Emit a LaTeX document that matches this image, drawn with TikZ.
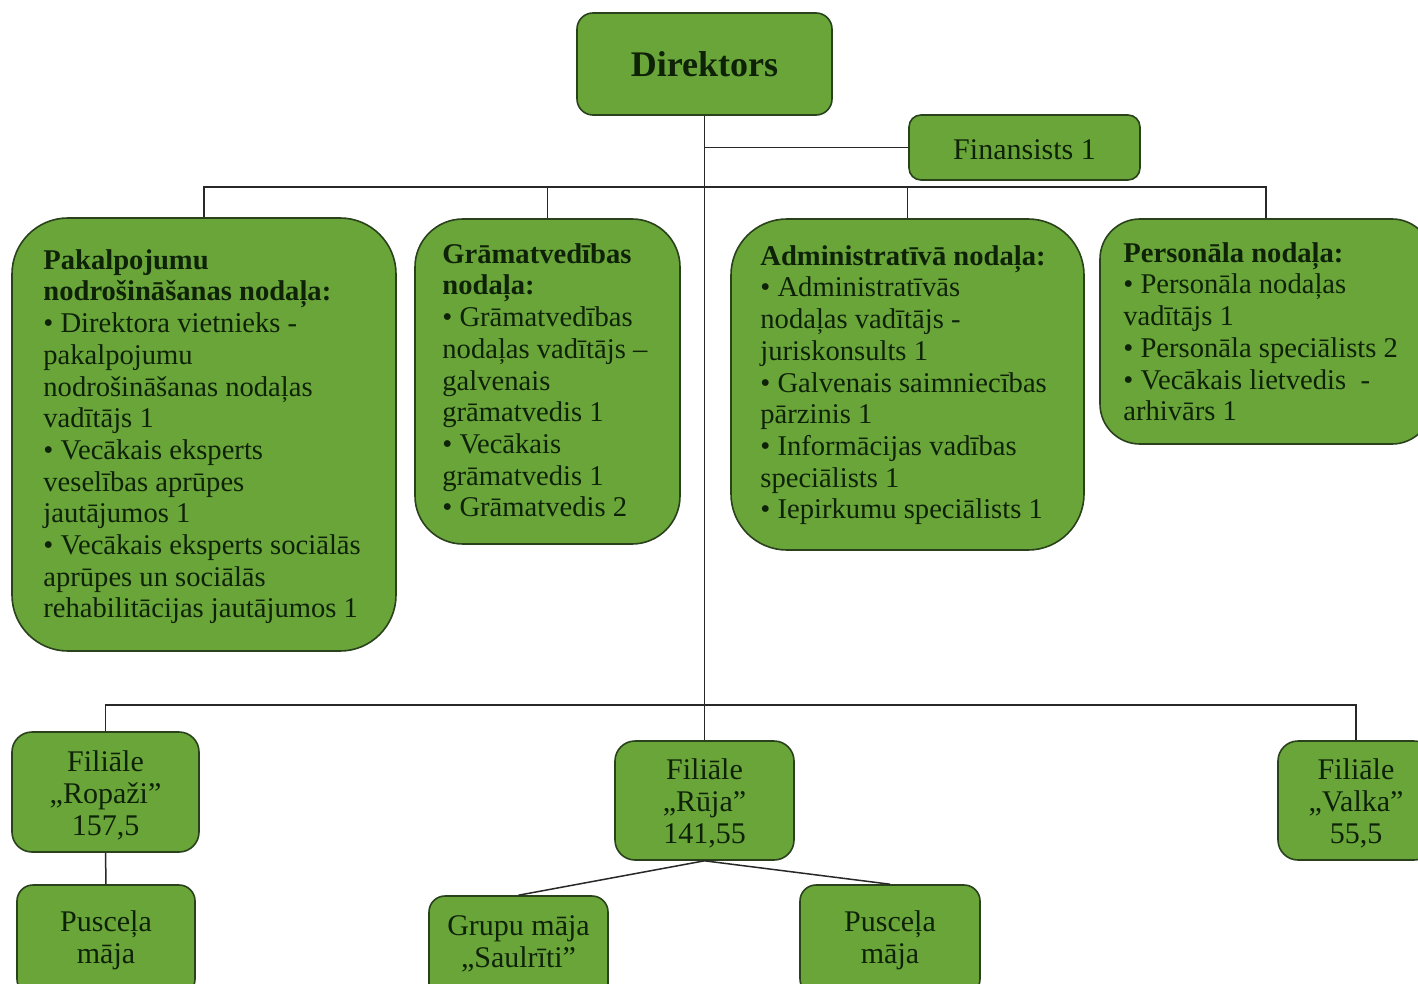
\documentclass[tikz,border=0pt]{standalone}
\usepackage{fontspec}
\setmainfont{Liberation Serif}
\definecolor{boxgreen}{RGB}{106,165,58}
\definecolor{boxedge}{RGB}{42,66,28}
\definecolor{txt}{RGB}{14,34,8}
\definecolor{wire}{RGB}{40,40,40}
\newcommand{\shiftline}[2]{\raisebox{#1}[\height][\depth]{#2}}
\begin{document}
\begin{tikzpicture}[x=0.5pt,y=-0.5pt,
  box/.style={draw=boxedge, line width=0.8pt, fill=boxgreen, rounded corners=#1, inner sep=0pt, text=txt},
  box/.default=10pt,
  small/.style={font=\fontsize{15}{16}\selectfont, align=center},
  dept/.style={anchor=north west, inner sep=0pt, align=left, text=txt, font=\fontsize{14.3}{15.85}\selectfont},
  wire/.style={draw=wire, line width=0.75pt}]
\useasboundingbox[fill=white] (0,0) rectangle (1418,984);

% boxes
\node[box=8pt, minimum width=127.5pt, minimum height=51pt, font=\fontsize{18}{20}\selectfont\bfseries] (dir) at (704.5,64) {Direktors};
\node[box=6pt, minimum width=115.5pt, minimum height=32.5pt, small] (fin) at (1024.5,147.5) {\shiftline{-1pt}{Finansists 1}};
\node[box=28pt, minimum width=192pt, minimum height=216.5pt] (pak) at (204,434.5) {};
\node[box=24pt, minimum width=132.5pt, minimum height=162.5pt] (gra) at (547.5,381.5) {};
\node[box=28pt, minimum width=176.5pt, minimum height=165.5pt] (adm) at (907.5,384.5) {};
\node[box=20pt, minimum width=166pt, minimum height=112.5pt] (per) at (1266,331.5) {};

\node[box, minimum width=93.5pt, minimum height=60pt, small] (rop) at (105.5,792) {\shiftline{-1.5pt}{Filiāle}\\\shiftline{-1.5pt}{„Ropaži”}\\\shiftline{-1.5pt}{157,5}};
\node[box, minimum width=89.5pt, minimum height=59.5pt, small] (ruj) at (704.5,800.5) {\shiftline{-1.5pt}{Filiāle}\\\shiftline{-1.5pt}{„Rūja”}\\\shiftline{-1.5pt}{141,55}};
\node[box, minimum width=78pt, minimum height=59.5pt, small] (val) at (1356,800.5) {\shiftline{-1.5pt}{Filiāle}\\\shiftline{-1.5pt}{„Valka”}\\\shiftline{-1.5pt}{55,5}};
\node[box=8pt, minimum width=89pt, minimum height=55pt, small] (pl) at (106,940) {Pusceļa\\māja};
\node[box=8pt, minimum width=89.5pt, minimum height=52pt, small] (gru) at (518.5,948) {\shiftline{2.2pt}{Grupu māja}\\\shiftline{2.2pt}{„Saulrīti”}};
\node[box=8pt, minimum width=90pt, minimum height=55pt, small] (pr) at (890,940) {Pusceļa\\māja};

% department texts
\node[dept] (pakt) at (43,249) {\textbf{Pakalpojumu}\\\textbf{nodrošināšanas nodaļa:}\\• Direktora vietnieks -\\pakalpojumu\\nodrošināšanas nodaļas\\vadītājs 1\\• Vecākais eksperts\\veselības aprūpes\\jautājumos 1\\• Vecākais eksperts sociālās\\aprūpes un sociālās\\rehabilitācijas jautājumos 1};
\node[dept] (grat) at (442,243) {\textbf{Grāmatvedības}\\\textbf{nodaļa:}\\• Grāmatvedības\\nodaļas vadītājs –\\galvenais\\grāmatvedis 1\\• Vecākais\\grāmatvedis 1\\• Grāmatvedis 2};
\node[dept] (admt) at (760,245) {\textbf{Administratīvā nodaļa:}\\• Administratīvās\\nodaļas vadītājs -\\juriskonsults 1\\• Galvenais saimniecības\\pārzinis 1\\• Informācijas vadības\\speciālists 1\\• Iepirkumu speciālists 1};
\node[dept] (pert) at (1123,242) {\textbf{Personāla nodaļa:}\\• Personāla nodaļas\\vadītājs 1\\• Personāla speciālists 2\\• Vecākais lietvedis \ -\\arhivārs 1};

% connectors
\coordinate (bus1) at (705,187);
\coordinate (bus2) at (705,705);
\draw[wire] (dir.south) -- (ruj.north);
\draw[wire] (dir.south |- fin.west) -- (fin.west);
\draw[wire] (pak.north) |- (bus1) -| (per.north);
\draw[wire] (gra.north) -- (gra.north |- bus1);
\draw[wire] (adm.north) -- (adm.north |- bus1);
\draw[wire] (rop.north) |- (bus2) -| (val.north);
\draw[wire] (rop.south) -- (pl.north);
\draw[wire] (ruj.south) -- (gru.north);
\draw[wire] (ruj.south) -- (pr.north);
\end{tikzpicture}
\end{document}
